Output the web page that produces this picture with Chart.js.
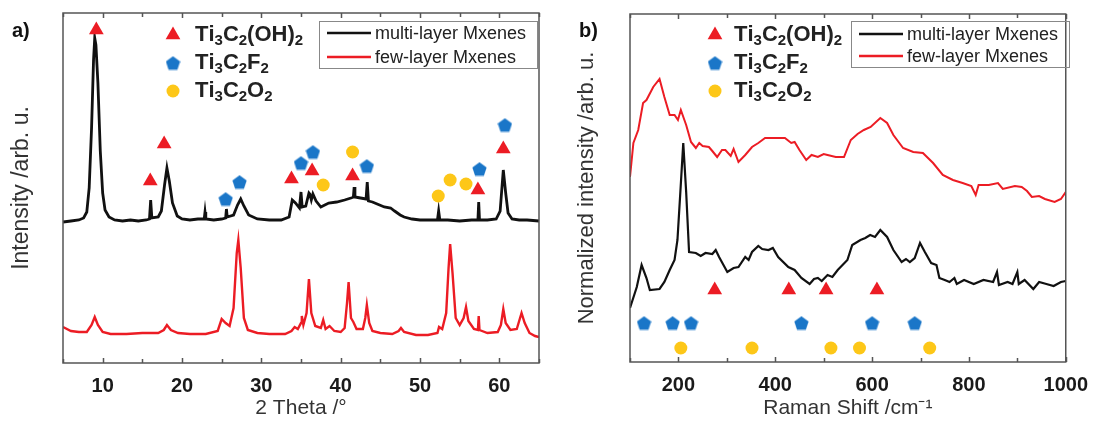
<!DOCTYPE html>
<html>
<head>
<meta charset="utf-8">
<script src="https://cdn.jsdelivr.net/npm/chart.js@4"></script>
<style>
  body { margin: 0; background: #fff; }
  #wrap { position: relative; width: 1099px; height: 435px; }
  canvas { position: absolute; top: 0; }
  #xrd { left: 0; }
  #raman { left: 550px; }
</style>
</head>
<body>
<div id="wrap">
  <canvas id="xrd" width="550" height="435"></canvas>
  <canvas id="raman" width="549" height="435"></canvas>
</div>
<script>
// ---- XRD (panel a), intensity in arb. units ----
const xrdMultiTheta = [5, 6, 7, 7.6, 8.0, 8.3, 8.6, 8.85, 9, 9.15, 9.4, 9.7, 10.0, 10.3, 10.8, 11.5, 12.5, 13.5, 14.5, 15.5, 15.9, 16.05, 16.2, 17, 17.4, 17.8, 18.1, 18.4, 18.8, 19.4, 20, 21, 22, 22.8, 22.9, 23, 24, 25, 25.5, 25.6, 25.7, 26.5, 27, 27.4, 27.8, 28.4, 29.5, 31, 32.5, 33.5, 33.9, 34.3, 34.8, 35, 35.15, 35.6, 36, 36.1, 36.3, 36.5, 36.9, 37.5, 38, 38.5, 39.5, 40.5, 41.3, 41.6, 41.7, 41.8, 42.5, 43.2, 43.35, 43.5, 44, 44.6, 45.5, 46.3, 46.8, 47.5, 48, 49, 50, 51, 52.2, 52.35, 52.5, 53.5, 55, 56.5, 57.3, 57.4, 57.5, 58.5, 59.6, 60.1, 60.5, 60.8, 61.1, 61.6, 62.5, 63.5, 65];
const xrdMultiI = [141, 142, 143, 145, 151, 175, 235, 303, 325, 318, 280, 212, 170, 153, 146, 143, 142, 143, 142, 143, 144, 163, 145, 146, 152, 178, 195, 182, 160, 147, 144, 143, 144, 144, 151, 144, 143, 144, 145, 154, 146, 148, 158, 164, 157, 148, 144, 143, 143, 146, 163, 160, 155, 171, 156, 157, 170, 169, 163, 169, 162, 156, 158, 160, 161, 163, 165, 166, 176, 166, 165, 164, 181, 162, 161, 159, 156, 155, 152, 148, 146, 144, 143, 143, 143, 152, 143, 143, 142, 143, 143, 161, 143, 143, 144, 152, 193, 170, 150, 144, 143, 143, 142];

const xrdFewTheta = [5, 6, 7, 8, 8.6, 9, 9.4, 10, 11, 13, 15, 17, 17.7, 18.1, 18.6, 19.5, 21, 23, 24.5, 25, 25.5, 26, 26.5, 26.9, 27.1, 27.4, 27.8, 28.3, 29.5, 31, 33, 33.8, 34.2, 34.6, 35, 35.1, 35.3, 35.7, 36, 36.3, 36.8, 37.5, 37.8, 38.1, 38.6, 39.2, 40, 40.5, 40.8, 41, 41.3, 41.6, 42, 42.8, 43.1, 43.3, 43.6, 44, 45, 46.5, 47.3, 47.6, 48, 49.5, 51, 52.2, 52.4, 52.8, 53.3, 53.6, 53.8, 54.1, 54.5, 55, 55.5, 55.8, 56.1, 56.8, 57.3, 57.4, 57.5, 58.5, 59.8, 60.2, 60.5, 60.8, 61.4, 62.2, 62.8, 63.2, 63.8, 64.5, 65];
const xrdFewI = [36, 32, 31, 31, 38, 46, 38, 31, 29, 29, 30, 30, 33, 38, 33, 30, 29, 29, 32, 44, 40, 37, 55, 110, 123, 95, 45, 33, 30, 29, 29, 32, 36, 34, 40, 47, 38, 50, 84, 50, 37, 35, 43, 34, 37, 32, 31, 35, 60, 81, 45, 41, 34, 34, 45, 58, 40, 32, 30, 29, 32, 35, 31, 28, 28, 30, 36, 34, 50, 95, 119, 90, 45, 38, 45, 56, 42, 34, 33, 47, 33, 30, 31, 38, 54, 40, 33, 34, 50, 40, 30, 27, 26];

const xrdOHTheta = [9.2, 16.0, 17.75, 33.8, 36.4, 41.5, 57.3, 60.5];
const xrdOHI = [333, 182, 219, 184, 192, 187, 173, 214];
const xrdFTheta = [25.5, 27.25, 35.0, 36.5, 43.3, 57.5, 60.7];
const xrdFI = [164, 181, 200, 211, 197, 194, 238];
const xrdOTheta = [37.8, 41.5, 52.3, 53.8, 55.8];
const xrdOI = [178, 211, 167, 183, 179];

// ---- Raman (panel b) ----
const ramanMultiShift = [100, 114, 124, 134, 141, 161, 171, 182, 192, 198, 204, 210, 216, 222, 236, 246, 256, 270, 277, 284, 301, 314, 324, 338, 345, 352, 365, 373, 386, 395, 406, 427, 440, 454, 471, 480, 488, 496, 508, 518, 529, 549, 559, 576, 586, 596, 606, 617, 631, 644, 661, 670, 678, 688, 699, 709, 722, 733, 739, 750, 760, 770, 775, 790, 810, 830, 850, 858, 862, 880, 890, 900, 903, 915, 933, 945, 960, 975, 990, 1000];
const ramanMultiI = [54, 75, 97, 84, 72, 73, 80, 92, 102, 122, 170, 219, 170, 110, 109, 106, 109, 108, 112, 105, 90, 94, 95, 105, 102, 110, 116, 113, 112, 114, 105, 95, 92, 84, 78, 83, 84, 81, 87, 85, 92, 102, 117, 122, 124, 127, 125, 132, 125, 112, 100, 103, 100, 104, 119, 110, 99, 97, 84, 82, 80, 84, 78, 82, 78, 82, 80, 90, 77, 80, 78, 90, 78, 82, 73, 80, 78, 76, 80, 81];

const ramanFewShift = [100, 107, 117, 127, 134, 148, 161, 171, 182, 192, 199, 205, 216, 226, 236, 243, 250, 263, 270, 280, 290, 297, 308, 314, 324, 338, 352, 365, 379, 406, 420, 433, 440, 450, 464, 475, 488, 500, 508, 525, 542, 556, 570, 583, 597, 617, 631, 644, 664, 685, 705, 726, 746, 767, 787, 805, 814, 820, 841, 860, 870, 895, 909, 920, 930, 945, 957, 977, 990, 1000];
const ramanFewI = [185, 219, 232, 259, 262, 275, 283, 265, 247, 247, 242, 252, 237, 220, 214, 219, 216, 215, 211, 205, 212, 212, 206, 213, 200, 207, 215, 219, 224, 224, 224, 219, 220, 212, 202, 207, 205, 208, 207, 205, 205, 222, 228, 232, 235, 244, 239, 227, 214, 210, 209, 199, 187, 182, 179, 176, 167, 177, 177, 179, 173, 176, 175, 171, 165, 166, 163, 160, 163, 170];

const ramanOHShift = [275, 428, 505, 610];
const ramanOHI = [72, 72, 72, 72];
const ramanFShift = [129, 188, 226, 454, 600, 688];
const ramanFI = [39, 39, 39, 39, 39, 39];
const ramanOShift = [205, 352, 515, 574, 719];
const ramanOI = [14, 14, 14, 14, 14];

const seriesNames = ['multi-layer Mxenes', 'few-layer Mxenes'];
const phaseNames = ['Ti_3C_2(OH)_2', 'Ti_3C_2F_2', 'Ti_3C_2O_2'];

const RED = '#ec1c24', BLUE = '#1a76c8', YELLOW = '#fdc718';
const FONT = '"Liberation Sans", Arial, sans-serif';

// pentagon marker (no built-in pointStyle for it)
function pentagon(size) {
  const c = document.createElement('canvas');
  c.width = size; c.height = size;
  const g = c.getContext('2d');
  const r = size / 2, cx = r, cy = r + 0.8;
  g.beginPath();
  for (let i = 0; i < 5; i++) {
    const a = -Math.PI / 2 + i * 2 * Math.PI / 5;
    g.lineTo(cx + r * Math.cos(a), cy + r * Math.sin(a));
  }
  g.closePath();
  g.fillStyle = BLUE;
  g.fill();
  return c;
}
const penta = pentagon(15);

const markerStyles = [
  { pointStyle: 'triangle', color: RED, radius: 8.5 },
  { pointStyle: penta, color: BLUE, radius: 7.5 },
  { pointStyle: 'circle', color: YELLOW, radius: 6.5 }
];

const zip = (xs, ys) => xs.map((x, i) => ({ x: x, y: ys[i] }));

function markerSet(xs, ys, k) {
  const m = markerStyles[k];
  return {
    data: zip(xs, ys), showLine: false,
    pointStyle: m.pointStyle, pointRadius: m.radius, pointHoverRadius: m.radius,
    backgroundColor: m.color, borderColor: m.color, borderWidth: 0
  };
}
function lineSet(xs, ys, color, width) {
  return {
    data: zip(xs, ys), showLine: true, borderColor: color, borderWidth: width,
    pointRadius: 0, tension: 0, fill: false
  };
}

function drawChem(ctx, text, x, y) {
  let cx = x;
  for (let i = 0; i < text.length; i++) {
    const ch = text[i];
    if (ch === '_') {
      const s = text[++i];
      ctx.font = 'bold 15px ' + FONT;
      ctx.fillText(s, cx, y + 6);
      cx += ctx.measureText(s).width;
    } else {
      ctx.font = 'bold 22px ' + FONT;
      ctx.fillText(ch, cx, y);
      cx += ctx.measureText(ch).width;
    }
  }
}

const framePlugin = {
  id: 'frame',
  afterDraw(chart, args, o) {
    const { ctx, chartArea: a, scales: { x } } = chart;
    ctx.save();
    ctx.strokeStyle = '#555';
    ctx.lineWidth = 1.5;
    ctx.strokeRect(a.left, a.top, a.right - a.left, a.bottom - a.top);
    ctx.beginPath();
    x.ticks.forEach(t => {
      const px = Math.round(x.getPixelForValue(t.value)) + 0.5;
      const len = t.label ? 5 : 4;
      ctx.moveTo(px, a.bottom); ctx.lineTo(px, a.bottom - len);
      ctx.moveTo(px, a.top); ctx.lineTo(px, a.top + len);
    });
    ctx.stroke();

    // panel tag
    ctx.fillStyle = '#111';
    ctx.textBaseline = 'middle';
    ctx.font = 'bold 20px ' + FONT;
    ctx.fillText(o.tag, o.tagX, o.tagY);

    // phase marker legend
    const ml = o.markers;
    phaseNames.forEach((name, k) => {
      const m = markerStyles[k];
      const y = ml.y + k * ml.dy;
      ctx.fillStyle = m.color;
      Chart.helpers.drawPoint(ctx, { pointStyle: m.pointStyle, radius: m.radius, rotation: 0, borderWidth: 0 }, ml.x, y);
      ctx.fillStyle = '#222';
      drawChem(ctx, name, ml.textX, y);
    });

    // series legend box
    const b = o.box;
    ctx.strokeStyle = '#888';
    ctx.lineWidth = 1;
    ctx.strokeRect(b.x + 0.5, b.y + 0.5, b.w, b.h);
    ctx.font = '18px ' + FONT;
    [['#111', b.row1], [RED, b.row2]].forEach((r, i) => {
      ctx.strokeStyle = r[0];
      ctx.lineWidth = 2.5;
      ctx.beginPath();
      ctx.moveTo(b.x + 8, r[1]); ctx.lineTo(b.x + 52, r[1]);
      ctx.stroke();
      ctx.fillStyle = '#222';
      ctx.fillText(seriesNames[i], b.x + 56, r[1] + 1);
    });
    ctx.restore();
  }
};

function makeChart(id, cfg) {
  return new Chart(document.getElementById(id), {
    type: 'scatter',
    data: { datasets: cfg.datasets },
    options: {
      responsive: false, animation: false, devicePixelRatio: 1,
      layout: { padding: { top: cfg.padTop, right: cfg.padRight, left: 0, bottom: 0 } },
      plugins: { legend: { display: false }, tooltip: { enabled: false }, frame: cfg.frame },
      scales: {
        x: {
          type: 'linear', min: cfg.xMin, max: cfg.xMax,
          afterFit: s => { s.height = cfg.xHeight; },
          grid: { display: false, drawTicks: false }, border: { display: false },
          ticks: {
            stepSize: cfg.step, autoSkip: false, maxRotation: 0, padding: 11,
            color: '#1a1a1a', font: { family: FONT, size: 20, weight: 'bold' },
            callback: v => (v % cfg.labelEvery === 0 ? String(v) : '')
          },
          title: { display: true, text: cfg.xTitle, color: '#333', padding: { top: 0, bottom: 14 }, font: { family: FONT, size: 21 } }
        },
        y: {
          min: 0, max: cfg.yMax,
          afterFit: s => { s.width = cfg.yWidth; },
          grid: { display: false, drawTicks: false }, border: { display: false },
          ticks: { display: false },
          title: { display: true, text: cfg.yTitle, color: '#333', padding: { top: cfg.yTitlePad, bottom: 0 }, font: { family: FONT, size: cfg.yTitleSize } }
        }
      }
    },
    plugins: [framePlugin]
  });
}

makeChart('xrd', {
  datasets: [
    markerSet(xrdOHTheta, xrdOHI, 0),
    markerSet(xrdFTheta, xrdFI, 1),
    markerSet(xrdOTheta, xrdOI, 2),
    lineSet(xrdMultiTheta, xrdMultiI, '#111', 2.8),
    lineSet(xrdFewTheta, xrdFewI, RED, 2.4)
  ],
  xMin: 5, xMax: 65, step: 5, labelEvery: 10, yMax: 350,
  padTop: 13, padRight: 9, xHeight: 72, yWidth: 63, yTitlePad: 8, yTitleSize: 23,
  xTitle: '2 Theta /°', yTitle: 'Intensity /arb. u.',
  frame: {
    tag: 'a)', tagX: 12, tagY: 31,
    markers: { x: 173, y: 35, dy: 28, textX: 195 },
    box: { x: 319, y: 21, w: 218, h: 47, row1: 33, row2: 57 }
  }
});

makeChart('raman', {
  datasets: [
    markerSet(ramanOHShift, ramanOHI, 0),
    markerSet(ramanFShift, ramanFI, 1),
    markerSet(ramanOShift, ramanOI, 2),
    lineSet(ramanMultiShift, ramanMultiI, '#111', 2.2),
    lineSet(ramanFewShift, ramanFewI, RED, 2)
  ],
  xMin: 100, xMax: 1000, step: 100, labelEvery: 200, yMax: 348,
  padTop: 14, padRight: 28, xHeight: 73, yWidth: 80, yTitlePad: 24, yTitleSize: 22,
  xTitle: 'Raman Shift /cm⁻¹', yTitle: 'Normalized intensity /arb. u.',
  frame: {
    tag: 'b)', tagX: 29, tagY: 31,
    markers: { x: 165, y: 35, dy: 28, textX: 184 },
    box: { x: 301, y: 21, w: 218, h: 46, row1: 34, row2: 56 }
  }
});
</script>
</body>
</html>
